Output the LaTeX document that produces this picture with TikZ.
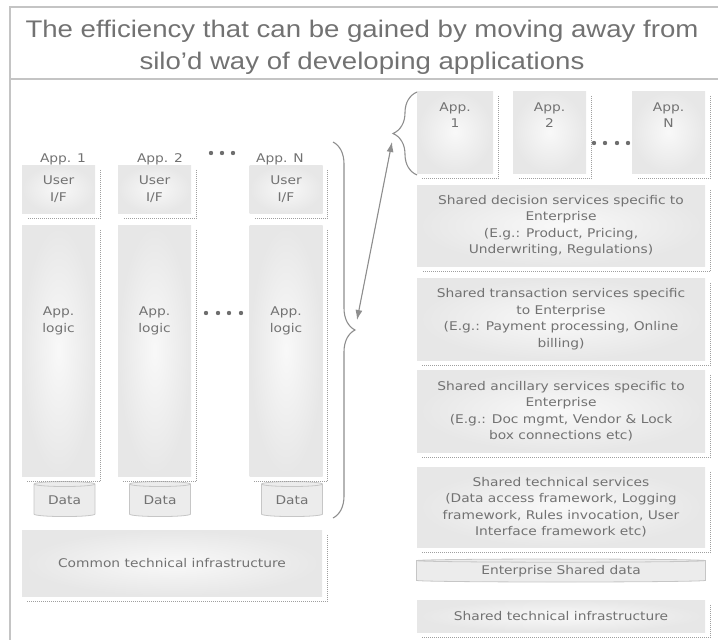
\documentclass[tikz,border=0pt]{standalone}
\usepackage{fontspec}
\setmainfont[FakeStretch=1.15]{DejaVu Sans}
\newfontfamily\titlefont[FakeStretch=1.15]{Liberation Sans}
\usetikzlibrary{shapes.geometric,decorations.pathreplacing,arrows.meta}
\definecolor{txtgray}{HTML}{727272}
\definecolor{linegray}{HTML}{C4C4C4}
\definecolor{arrgray}{HTML}{8E8E8E}
\definecolor{dotgray}{HTML}{6E6E6E}

\begin{document}
\begin{tikzpicture}[x=1pt, y=-1pt,
  txt/.style={text=txtgray, font=\fontsize{12}{16.5}\selectfont, align=center, inner sep=0pt},
  blk/.style={rectangle, inner sep=0pt, inner color=gray!5, outer color=gray!19, txt},
  shd/.style={draw=gray!75, dash pattern=on 0.8pt off 1.2pt, line width=0.7pt},
  drum/.style={cylinder, shape border rotate=90, draw=gray!45, line width=0.8pt, fill=gray!15, inner sep=0pt, txt},
  curl/.style={draw=arrgray, line width=1.1pt, decorate, decoration={brace, amplitude=#1}},
  frame/.style={draw=linegray, line width=1.4pt},
]
\useasboundingbox (0,0) rectangle (718,640);
% frame and title
\draw[frame] (10,640) -- (10,7) -- (718,7);
\draw[frame] (10,79) -- (718,79);
\node[text=txtgray, font=\titlefont\fontsize{24}{32}\selectfont, align=center] (title) at (362,47)
  {The efficiency that can be gained by moving away from\\silo’d way of developing applications};

% silo'd applications
\node[txt] (a1) at (63,159) {App. 1};
\node[txt] (a2) at (160,159) {App. 2};
\node[txt] (aN) at (280,159) {App. N};
\foreach \x in {211,222,233} \fill[dotgray] (\x,153) circle (2.2);

\node[blk, minimum width=73, minimum height=48] (u1) at (58.5,189) {User\\I/F};
\node[blk, minimum width=73, minimum height=48] (u2) at (154.5,189) {User\\I/F};
\node[blk, minimum width=73, minimum height=48] (uN) at (286,189) {User\\I/F};

\node[blk, minimum width=73, minimum height=251] (l1) at (58.5,350.5) {};
\node[blk, minimum width=73, minimum height=251] (l2) at (154.5,350.5) {};
\node[blk, minimum width=73, minimum height=251] (lN) at (286,350.5) {};
\node[txt] (t1) at (58.5,321) {App.\\logic};
\node[txt] (t2) at (154.5,321) {App.\\logic};
\node[txt] (tN) at (286,321) {App.\\logic};
\foreach \x in {206,218,229,241} \fill[dotgray] (\x,313) circle (2.2);

\node[drum, aspect=0.15, minimum width=61, minimum height=35] (d1) at (64.5,500.5) {Data};
\node[drum, aspect=0.15, minimum width=61, minimum height=35] (d2) at (160,500.5) {Data};
\node[drum, aspect=0.15, minimum width=61, minimum height=35] (dN) at (292,500.5) {Data};

\node[blk, minimum width=300, minimum height=66] (infra) at (172,563) {Common technical infrastructure};

% shared services
\node[blk, minimum width=76, minimum height=82] (r1) at (455,132) {};
\node[blk, minimum width=73, minimum height=82] (r2) at (549.5,132) {};
\node[blk, minimum width=73, minimum height=82] (rN) at (668.5,132) {};
\node[txt] (s1) at (455,115) {App.\\1};
\node[txt] (s2) at (549.5,115) {App.\\2};
\node[txt] (sN) at (668.5,115) {App.\\N};
\foreach \x in {594,605,617,628} \fill[dotgray] (\x,143) circle (2.2);

\node[blk, minimum width=288, minimum height=81] (dec) at (561,225.5)
  {Shared decision services specific to\\Enterprise\\(E.g.: Product, Pricing,\\Underwriting, Regulations)};
\node[blk, minimum width=288, minimum height=82] (trans) at (561,319)
  {Shared transaction services specific\\to Enterprise\\(E.g.: Payment processing, Online\\billing)};
\node[blk, minimum width=288, minimum height=82] (anc) at (561,411)
  {Shared ancillary services specific to\\Enterprise\\(E.g.: Doc mgmt, Vendor \& Lock\\box connections etc)};
\node[blk, minimum width=288, minimum height=80] (tech) at (561,507)
  {Shared technical services\\(Data access framework, Logging\\framework, Rules invocation, User\\Interface framework etc)};
\node[drum, aspect=0.02, minimum width=289, minimum height=23] (edata) at (561,571.5) {Enterprise Shared data};
\node[blk, minimum width=288, minimum height=32] (sinfra) at (561,616) {Shared technical infrastructure};

% dotted shadows
\foreach \n in {u1,u2,uN,l1,l2,lN,infra,r1,r2,rN,dec,trans,anc,tech,sinfra}
  \draw[shd] ([shift={(5,5)}]\n.north east) |- ([shift={(5,5)}]\n.south west);

% braces and arrow
\coordinate (lt) at (333,142);
\coordinate (lb) at (333,518);
\coordinate (rt) at (417,92);
\coordinate (rb) at (417,175);
\draw[curl=22] (lt) -- (lb);
\draw[curl=24] (rb) -- (rt);
\coordinate (ltip) at (357,320);
\coordinate (rtip) at (392,142);
\draw[draw=arrgray, fill=arrgray, line width=1.1pt, {Latex[length=10pt,width=7pt]}-{Latex[length=10pt,width=7pt]}] (ltip) -- (rtip);
\end{tikzpicture}
\end{document}
